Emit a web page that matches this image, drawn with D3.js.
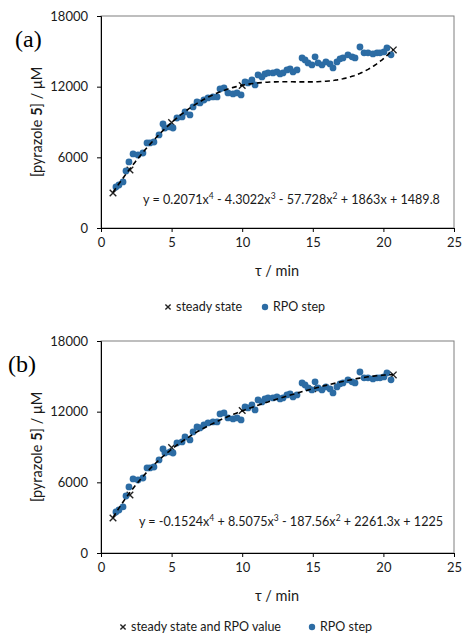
<!DOCTYPE html>
<html><head><meta charset="utf-8">
<script src="https://cdn.jsdelivr.net/npm/d3@7"></script>
<style>body{margin:0;background:#fff}svg{display:block}</style>
</head><body>
<svg id="c" width="462" height="637"></svg>
<script>
// RPO step data (same in both panels)
const tauRPO = [1.06,1.27,1.56,1.77,1.98,2.27,2.62,2.97,3.26,3.47,3.75,4.11,4.39,4.53,4.89,5.10,5.38,5.74,5.95,6.30,6.52,6.80,7.01,7.29,7.58,7.93,8.22,8.43,8.71,8.99,9.35,9.63,9.92,10.20,10.41,10.69,10.91,11.12,11.40,11.61,11.83,12.18,12.46,12.68,12.89,13.17,13.39,13.60,13.88,14.24,14.45,14.66,14.94,15.16,15.37,15.65,15.93,16.22,16.43,16.71,16.93,17.14,17.49,17.78,17.99,18.34,18.63,18.91,19.26,19.55,19.76,20.04,20.25,20.54];
const concRPO = [3480,3650,3910,4840,5610,6290,6200,6370,7220,7220,7300,7900,8830,8490,8580,8490,9340,9430,9850,9600,10280,10700,10620,10870,11040,11130,11130,11810,11890,11470,11380,11470,11300,12400,12320,12570,12150,13000,12830,13080,13170,13170,13250,13080,13170,13420,13500,13250,13420,14440,14270,14020,13850,14530,14020,13850,14100,13930,13590,14100,14360,14440,14700,14530,14440,15370,14870,14870,14780,14870,14870,14950,15290,14700];
// steady-state points
const tauSSa = [0.85, 2.05, 5.0, 10.0, 20.7];
const concSSa = [2970, 4930, 8950, 12100, 15120];
const tauSSb = [0.85, 2.05, 5.0, 10.0, 15.0, 20.7];
const concSSb = [2970, 4930, 8950, 12100, 13950, 15120];
// trendline coefficients (constant, x, x^2, x^3, x^4) as printed
const fitA = [1489.8, 1863, -57.728, -4.3022, 0.2071];
const fitB = [1225, 2261.3, -187.56, 8.5075, -0.1524];
const xTicks = [0, 5, 10, 15, 20, 25];
const yTicks = [0, 6000, 12000, 18000];
const legendA = ["steady state", "RPO step"];
const legendB = ["steady state and RPO value", "RPO step"];

const svg = d3.select("#c");
const font = "Lato, 'Open Sans', sans-serif";
const blue = "#2c6ca4";
const txt = "#1a1a1a";

function panel(top, label, tauSS, concSS, fit, legendLabels, eqY, legY, legX, eqX0, eqX1) {
  const x = d3.scaleLinear().domain([0, 25]).range([101, 454]);
  const y = d3.scaleLinear().domain([0, 18000]).range([top + 212, top]);
  const g = svg.append("g");
  g.append("rect").attr("x", 101).attr("y", top).attr("width", 353).attr("height", 212)
    .attr("fill", "none").attr("stroke", "#7f7f7f").attr("stroke-width", 1);
  const ax = g.append("g").attr("transform", `translate(0,${top + 212})`)
    .call(d3.axisBottom(x).tickValues(xTicks).tickFormat(d3.format("d")).tickSize(4).tickPadding(6));
  const ay = g.append("g").attr("transform", "translate(101,0)")
    .call(d3.axisLeft(y).tickValues(yTicks).tickFormat(d3.format("d")).tickSize(4).tickPadding(9));
  [ax, ay].forEach(a => {
    a.select(".domain").attr("stroke", "#000");
    a.selectAll(".tick line").attr("stroke", "#000");
    a.selectAll("text").attr("font-family", font).attr("font-size", 13).attr("fill", txt);
  });
  ax.selectAll("text").attr("dy", "0.71em");
  g.append("text").attr("x", 277).attr("y", top + 260).attr("text-anchor", "middle")
    .attr("font-family", font).attr("font-size", 14.5).attr("fill", txt).text("τ / min");
  const yt = g.append("text").attr("transform", `translate(42,${top + 106}) rotate(-90)`)
    .attr("text-anchor", "middle").attr("font-family", font).attr("font-size", 14.5).attr("fill", txt);
  yt.append("tspan").text("[pyrazole ");
  yt.append("tspan").attr("font-weight", "bold").text("5");
  yt.append("tspan").text("] / μM");
  g.append("text").attr("x", label === "(a)" ? 15 : 8).attr("y", top + 31)
    .attr("font-family", "'Liberation Serif', 'DejaVu Serif', serif").attr("font-size", 24).attr("fill", "#000").text(label);
  const cross = (sel, cx, cy, s, sw) => {
    sel.append("path").attr("d", `M${cx - s},${cy - s}L${cx + s},${cy + s}M${cx - s},${cy + s}L${cx + s},${cy - s}`)
      .attr("stroke", "#222").attr("stroke-width", sw).attr("fill", "none");
  };
  tauSS.forEach((t, i) => cross(g, x(t), y(concSS[i]), 3.3, 1.4));
  g.selectAll("circle.d").data(tauRPO).join("circle").attr("class", "d")
    .attr("cx", (d) => x(d)).attr("cy", (d, i) => y(concRPO[i])).attr("r", 3.4).attr("fill", blue);
  const poly = t => fit.reduce((s, c, i) => s + c * Math.pow(t, i), 0);
  const t0 = d3.min(tauSS), t1 = d3.max(tauSS);
  const ts = d3.range(0, 101).map(i => t0 + (t1 - t0) * i / 100);
  g.append("path").datum(ts).attr("fill", "none").attr("stroke", "#000").attr("stroke-width", 1.6)
    .attr("stroke-dasharray", "5,3.5")
    .attr("d", d3.line().x(t => x(t)).y(t => y(poly(t))));
  // equation
  const eq = g.append("text").attr("y", eqY).attr("font-family", font).attr("font-size", 12.6).attr("fill", txt);
  let pendingDy = 0;
  const add = (s, opts) => {
    const sp = eq.append("tspan").text(s);
    if (opts && opts.sup) { sp.attr("font-size", 8.5).attr("dy", -5); pendingDy = 5; }
    else if (pendingDy) { sp.attr("dy", pendingDy); pendingDy = 0; }
    return sp;
  };
  add("y = ");
  for (let p = 4; p >= 0; p--) {
    const c = fit[p];
    let s = (p === 4) ? (c < 0 ? "-" : "") + Math.abs(c) : (c < 0 ? " - " : " + ") + Math.abs(c);
    if (p >= 1) s += "x";
    add(s);
    if (p >= 2) add(String(p), { sup: true });
  }
  const w = eq.node().getComputedTextLength();
  eq.attr("x", eqX0 + ((eqX1 - eqX0) - w) / 2);
  // legend
  const lg = g.append("g");
  cross(lg, legX[0], legY, 2.6, 1.4);
  lg.append("text").attr("x", legX[0] + 8).attr("y", legY).attr("dy", "0.35em").attr("font-family", font)
    .attr("font-size", 12.5).attr("fill", txt).text(legendLabels[0]);
  lg.append("circle").attr("cx", legX[1]).attr("cy", legY).attr("r", 3.2).attr("fill", blue);
  lg.append("text").attr("x", legX[1] + 8).attr("y", legY).attr("dy", "0.35em").attr("font-family", font)
    .attr("font-size", 12.5).attr("fill", txt).text(legendLabels[1]);
}

panel(16, "(a)", tauSSa, concSSa, fitA, legendA, 204, 307, [168, 265], 143, 440);
panel(341, "(b)", tauSSb, concSSb, fitB, legendB, 526, 627, [123, 312], 139, 443);
</script>
</body></html>
